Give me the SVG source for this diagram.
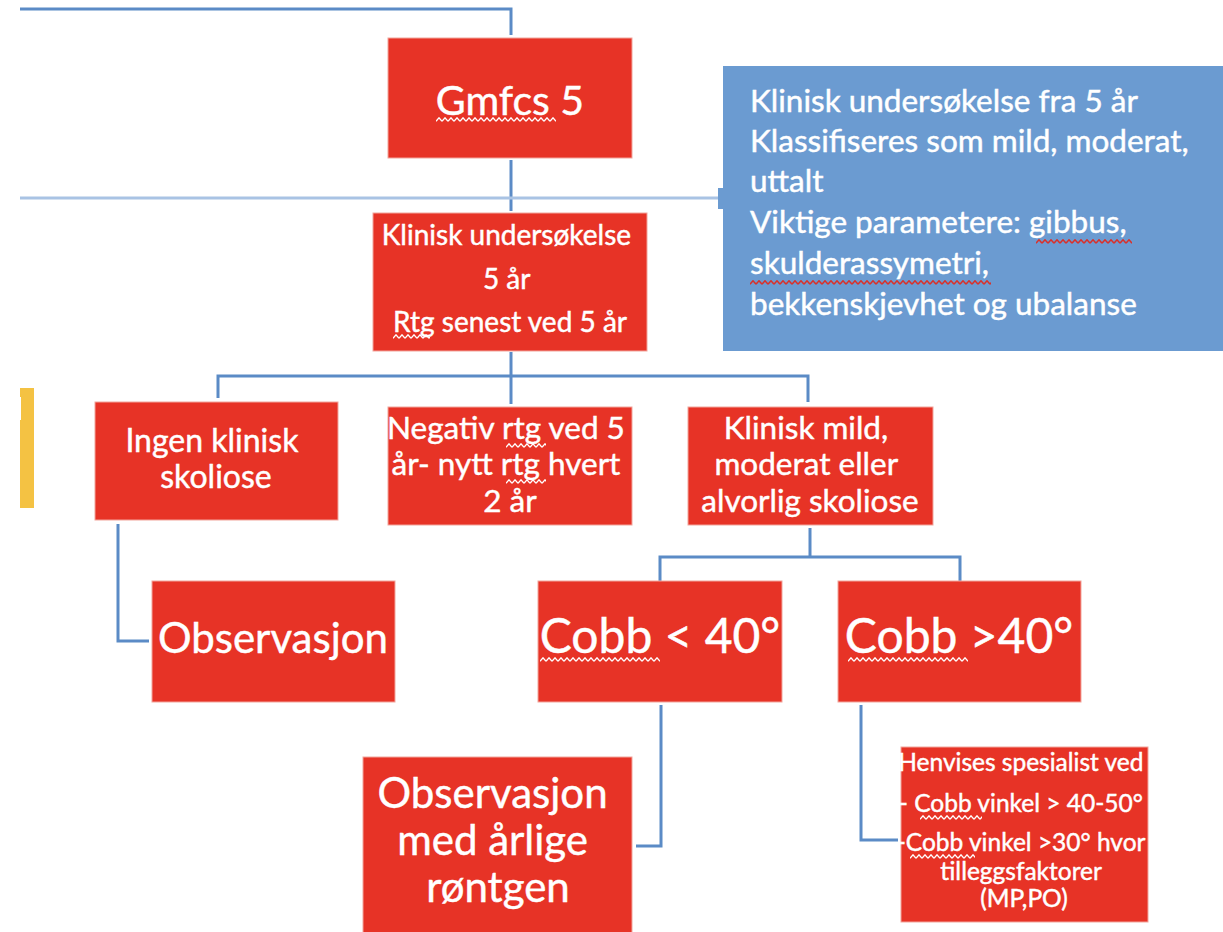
<svg xmlns="http://www.w3.org/2000/svg" width="1223" height="932" viewBox="0 0 1223 932">
  <style>
    .box { fill: #e73326; stroke: #f2a59c; stroke-width: 1; }
    .info { fill: #6b9bd1; }
    .t { font-family: Lato, "Liberation Sans", sans-serif; fill: #ffffff; stroke: #ffffff; stroke-width: 0.45; }
    .c { text-anchor: middle; }
    .wire { fill: none; stroke: #5b8bc6; stroke-width: 3; }
    .wire-light { fill: none; stroke: #a9c3e4; stroke-width: 3; }
  </style>
  <defs>
    <!-- spell-check style wavy underlines -->
    <pattern id="waveW" width="6" height="5" patternUnits="userSpaceOnUse">
      <path d="M0 4.2 L3 0.8 L6 4.2" fill="none" stroke="#ffffff" stroke-width="1.3"/>
    </pattern>
    <pattern id="waveR" width="6" height="5" patternUnits="userSpaceOnUse">
      <path d="M0 4.2 L3 0.8 L6 4.2" fill="none" stroke="#d9302a" stroke-width="1.5"/>
    </pattern>
  </defs>

  <rect width="1223" height="932" fill="#ffffff"/>

  <!-- yellow edge bar -->
  <g id="side-bar">
    <rect x="20" y="388" width="14" height="120" fill="#f4c243"/>
    <rect x="19" y="397" width="2" height="23" fill="#ffffff"/>
  </g>

  <g id="connectors">
    <path class="wire" d="M20 9 H511 V35"/>
    <path class="wire" d="M511 160 V211"/>
    <path class="wire-light" d="M20 198 H719"/>
    <path class="wire" d="M511 352 V404"/>
    <path class="wire" d="M218 398 V376 H808 V402"/>
    <path class="wire" d="M118 524 V641 H149"/>
    <path class="wire" d="M810 528 V557"/>
    <path class="wire" d="M660 583 V557 H960 V583"/>
    <path class="wire" d="M661 705 V846 H636"/>
    <path class="wire" d="M861 705 V840 H898"/>
  </g>

  <g id="gmfcs">
    <rect class="box" x="388" y="38" width="244" height="120"/>
    <text class="t c" x="510" y="115" font-size="41">Gmfcs 5</text>
    <rect transform="translate(436,117)" width="120" height="5" fill="url(#waveW)"/>
  </g>

  <g id="info">
    <rect class="info" x="723" y="66" width="500" height="285"/>
    <rect class="info" x="718" y="188" width="6" height="21"/>
    <text class="t" font-size="31.5">
      <tspan x="750" y="112">Klinisk undersøkelse fra 5 år</tspan>
      <tspan x="750" y="152">Klassifiseres som mild, moderat,</tspan>
      <tspan x="750" y="192">uttalt</tspan>
      <tspan x="750" y="233">Viktige parametere: gibbus,</tspan>
      <tspan x="750" y="274">skulderassymetri,</tspan>
      <tspan x="750" y="315">bekkenskjevhet og ubalanse</tspan>
    </text>
    <rect transform="translate(1036,239)" width="96" height="5" fill="url(#waveR)"/>
    <rect transform="translate(750,280)" width="241" height="5" fill="url(#waveR)"/>
  </g>

  <g id="exam">
    <rect class="box" x="373" y="213" width="274" height="138"/>
    <text class="t c" font-size="28">
      <tspan x="510" y="245">Klinisk undersøkelse</tspan>
      <tspan x="510" y="289">5 år</tspan>
      <tspan x="510" y="332">Rtg senest ved 5 år</tspan>
    </text>
    <rect transform="translate(393,334)" width="37" height="5" fill="url(#waveW)"/>
  </g>

  <g id="no-scoliosis">
    <rect class="box" x="95" y="402" width="243" height="118"/>
    <text class="t c" font-size="32">
      <tspan x="216" y="452">Ingen klinisk</tspan>
      <tspan x="216" y="488">skoliose</tspan>
    </text>
  </g>

  <g id="negative-xray">
    <rect class="box" x="388" y="407" width="244" height="118"/>
    <text class="t c" font-size="31.5">
      <tspan x="510" y="439">Negativ rtg ved 5</tspan>
      <tspan x="510" y="475">år- nytt rtg hvert</tspan>
      <tspan x="510" y="512">2 år</tspan>
    </text>
    <rect transform="translate(506,443)" width="40" height="5" fill="url(#waveW)"/>
    <rect transform="translate(506,479)" width="40" height="5" fill="url(#waveW)"/>
  </g>

  <g id="clinical-scoliosis">
    <rect class="box" x="688" y="407" width="245" height="118"/>
    <text class="t c" font-size="31.5">
      <tspan x="810" y="439">Klinisk mild,</tspan>
      <tspan x="810" y="475">moderat eller</tspan>
      <tspan x="810" y="512">alvorlig skoliose</tspan>
    </text>
  </g>

  <g id="observation">
    <rect class="box" x="152" y="581" width="243" height="121"/>
    <text class="t c" x="273" y="653" font-size="42">Observasjon</text>
  </g>

  <g id="cobb-under-40">
    <rect class="box" x="538" y="581" width="244" height="121"/>
    <text class="t c" x="660" y="653" font-size="48">Cobb &lt; 40°</text>
    <rect transform="translate(540,657)" width="120" height="5" fill="url(#waveW)"/>
  </g>

  <g id="cobb-over-40">
    <rect class="box" x="838" y="581" width="243" height="121"/>
    <text class="t c" x="959" y="653" font-size="48">Cobb &gt;40°</text>
    <rect transform="translate(848,657)" width="120" height="5" fill="url(#waveW)"/>
  </g>

  <g id="annual-xray">
    <rect class="box" x="363" y="757" width="269" height="180"/>
    <text class="t c" font-size="42">
      <tspan x="498" y="808">Observasjon</tspan>
      <tspan x="498" y="855">med årlige</tspan>
      <tspan x="498" y="902">røntgen</tspan>
    </text>
  </g>

  <g id="specialist">
    <rect class="box" x="901" y="747" width="247" height="175"/>
    <text class="t c" font-size="24.5">
      <tspan x="1024" y="771">Henvises spesialist ved</tspan>
      <tspan x="1024" y="812">- Cobb vinkel &gt; 40-50°</tspan>
      <tspan x="1024" y="851">-Cobb vinkel &gt;30° hvor</tspan>
      <tspan x="1024" y="880">tilleggsfaktorer</tspan>
      <tspan x="1024" y="907">(MP,PO)</tspan>
    </text>
    <rect transform="translate(920,815)" width="62" height="5" fill="url(#waveW)"/>
    <rect transform="translate(910,854)" width="65" height="5" fill="url(#waveW)"/>
  </g>
</svg>
